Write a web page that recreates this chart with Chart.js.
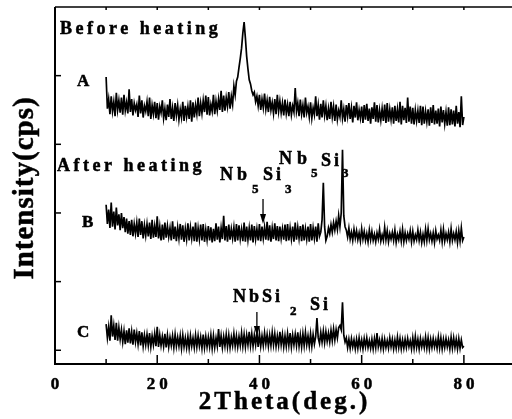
<!DOCTYPE html>
<html><head><meta charset="utf-8">
<script src="https://cdn.jsdelivr.net/npm/chart.js@4"></script>
<style>
html,body{margin:0;padding:0;background:#fff;overflow:hidden;}
#wrap{width:512px;height:419px;overflow:hidden;position:relative;background:#fff;}
canvas{position:absolute;left:0;top:0;}
</style></head><body>
<div id="wrap"><canvas id="c" width="520" height="419"></canvas></div>
<script>
// 2θ sampling grid
const twoThetaStart = 10, twoThetaStep = 0.25;

// A: before heating (offset intensity, arbitrary cps units)
const traceA = [
398,352,366,344, 370,348,362,341, 375,350,364,346, 368,343,372,349, 361,345,380,347,
366,342,360,350, 358,340,371,345, 364,339,356,348, 362,341,368,337, 357,344,362,338,
360,336,355,346, 364,338,352,335, 358,340,366,337, 353,334,360,342, 357,336,351,339,
362,334,356,340, 355,337,364,333, 361,339,357,344, 368,341,360,345, 364,347,371,343,
369,342,358,348, 372,344,363,349, 366,350,378,347, 371,349,368,355, 376,352,370,358,
385,372,392,398, 412,425,440,462, 478,455,428,410, 394,388,378,372, 376,362,370,356,
372,350,366,353, 374,351,364,347, 369,350,361,345, 366,344,372,348, 363,346,360,342,
365,345,358,341, 362,343,356,347, 382,348,360,341, 365,344,357,339, 368,346,355,340,
361,338,353,343, 370,341,357,336, 359,339,364,342, 356,335,352,337, 362,340,355,334,
358,336,349,340, 364,338,351,333, 357,341,360,337, 353,332,356,339, 361,335,350,338,
355,331,357,336, 359,334,352,330, 354,337,361,333, 357,332,350,335, 352,334,358,331,
360,333,351,336, 354,330,356,334, 351,332,362,329, 356,335,353,331, 368,333,355,330,
353,329,350,334, 349,331,356,328, 355,330,348,333, 351,327,354,331, 357,329,349,330,
352,326,355,332, 350,330,347,327, 354,328,351,329, 349,326,356,330, 347,325,370,328,
340];

// B: after heating
const traceB = [
212,184,205,178, 215,180,202,176, 208,182,198,175, 200,178,194,172, 192,170,188,168,
190,166,184,170, 186,165,192,168, 188,163,182,167, 184,166,186,162, 190,164,181,165,
195,163,180,160, 183,161,186,164, 181,165,178,160, 188,162,180,159, 179,163,184,161,
182,158,177,162, 185,160,179,163, 180,159,186,158, 178,162,183,160, 184,158,176,161,
181,160,179,157, 177,159,185,161, 180,157,178,162, 196,160,181,158, 183,161,177,163,
179,158,184,160, 182,162,176,159, 186,158,180,161, 178,160,183,157, 181,162,177,160,
184,159,180,163, 179,161,187,160, 182,158,178,162, 185,160,181,159, 180,163,177,161,
183,159,184,160, 178,162,180,158, 186,161,179,163, 181,159,183,160, 177,162,180,158,
184,160,178,163, 180,158,185,166, 172,190,244,180, 160,166,178,170, 183,172,186,175,
188,176,196,180, 200,292,196,180, 175,165,178,162, 172,160,176,163, 174,161,171,159,
177,162,173,160, 170,158,175,161, 173,160,169,158, 171,162,176,159, 168,160,179,161,
174,158,170,162, 172,160,175,157, 169,161,173,159, 176,158,171,160, 170,162,174,158,
173,159,168,161, 175,160,172,157, 169,158,176,160, 177,161,170,159, 171,157,174,162,
168,160,175,158, 176,159,170,161, 172,158,177,160, 170,161,173,157, 174,159,178,160,
165];

// C: after heating
const traceC = [
38,18,34,14, 51,20,36,15, 40,14,33,16, 30,12,28,9, 29,11,32,10,
27,8,30,12, 25,9,28,7, 26,6,22,8, 23,7,25,5, 21,8,24,6,
34,5,22,7, 20,6,24,4, 22,5,19,7, 21,4,23,6, 19,6,21,3,
22,5,18,4, 20,3,21,6, 18,4,22,5, 21,6,19,3, 23,4,20,5,
19,5,22,3, 21,4,18,6, 31,5,21,4, 20,6,23,5, 22,4,19,7,
24,6,21,5, 20,7,25,6, 23,5,22,8, 27,7,24,6, 22,8,26,5,
24,6,21,7, 25,9,23,6, 22,7,26,8, 24,6,21,7, 27,8,23,5,
21,6,24,7, 25,5,22,8, 23,7,26,6, 22,5,24,7, 26,8,21,6,
24,6,23,9, 20,47,18,10, 26,12,28,11, 27,13,25,12, 29,14,31,15,
30,18,33,36, 30,70,22,12, 18,4,16,3, 17,5,15,2, 16,3,18,4,
15,2,17,5, 18,4,14,3, 16,2,17,4, 25,5,15,3, 17,2,16,4,
14,3,18,5, 16,2,15,3, 19,4,17,2, 15,3,16,4, 17,5,14,2,
18,3,20,4, 16,2,17,5, 15,4,19,3, 18,2,16,4, 17,5,15,3,
19,3,18,2, 16,4,17,5, 15,2,19,3, 18,4,16,2, 17,3,15,4,
6];

const xMajorTicks = [0, 20, 40, 60, 80];
const xTickLabels = ['0', '20', '40', '60', '80'];
const xMinorTicks = [10, 30, 50, 70];
const xTopTicks = [0, 10, 20, 30, 40, 50, 60, 70, 80];
const yTicks = [0, 100, 200, 300, 400];
const xTitle = '2Theta(deg.)';
const yTitle = 'Intensity(cps)';

const serif = '"Liberation Serif", "Times New Roman", "DejaVu Serif", serif';
function toXY(arr) { return arr.map((v, i) => ({ x: twoThetaStart + i * twoThetaStep, y: v })); }

function txt(ctx, s, x, y, size, ls, align) {
  ctx.save();
  ctx.font = 'bold ' + size + 'px ' + serif;
  ctx.letterSpacing = ls + 'px';
  ctx.fillStyle = '#000';
  ctx.strokeStyle = '#000';
  ctx.lineWidth = 0.5;
  ctx.textBaseline = 'alphabetic';
  ctx.textAlign = align || 'left';
  const px = x + (align === 'center' ? ls / 2 : 0);
  ctx.fillText(s, px, y);
  ctx.strokeText(s, px, y);
  ctx.restore();
}
function seg(ctx, x1, y1, x2, y2) { ctx.beginPath(); ctx.moveTo(x1, y1); ctx.lineTo(x2, y2); ctx.stroke(); }
function arrow(ctx, x, yTop, yTip) {
  ctx.save();
  ctx.strokeStyle = '#000'; ctx.fillStyle = '#000'; ctx.lineWidth = 1.3;
  seg(ctx, x, yTop, x, yTip - 6);
  ctx.beginPath(); ctx.moveTo(x - 3, yTip - 10); ctx.lineTo(x + 3, yTip - 10); ctx.lineTo(x, yTip); ctx.closePath(); ctx.fill();
  ctx.restore();
}

const decor = {
  id: 'decor',
  afterDatasetsDraw(chart) {
    const { ctx, chartArea: a, scales: { x, y } } = chart;
    ctx.save();
    ctx.strokeStyle = '#000';
    ctx.lineWidth = 1.5;
    seg(ctx, a.left, a.top, a.right, a.top);
    ctx.lineWidth = 2;
    ctx.beginPath();
    ctx.moveTo(a.left, a.top); ctx.lineTo(a.left, a.bottom); ctx.lineTo(a.right, a.bottom);
    ctx.stroke();
    ctx.lineWidth = 1.5;
    for (const v of xMajorTicks) { const p = x.getPixelForValue(v); seg(ctx, p, a.bottom, p, a.bottom - 9); }
    for (const v of xMinorTicks) { const p = x.getPixelForValue(v); seg(ctx, p, a.bottom, p, a.bottom - 5); }
    for (const v of xTopTicks) { const p = x.getPixelForValue(v); seg(ctx, p, a.top, p, a.top + 3); }
    for (const v of yTicks) { const p = y.getPixelForValue(v); seg(ctx, a.left, p, a.left + 6, p); }
    ctx.restore();

    xMajorTicks.forEach((v, i) => txt(ctx, xTickLabels[i], x.getPixelForValue(v), 389, 17, 4, 'center'));
    txt(ctx, xTitle, 283, 409, 25, 3, 'center');
    ctx.save();
    ctx.translate(33, 188.5);
    ctx.rotate(-Math.PI / 2);
    txt(ctx, yTitle, 0, 0, 29, 1, 'center');
    ctx.restore();

    txt(ctx, 'Before heating', 60, 34, 18, 3.5);
    txt(ctx, 'A', 77, 86, 17, 0);
    txt(ctx, 'After heating', 57, 171, 18, 3.5);
    txt(ctx, 'B', 82, 227, 17, 0);
    txt(ctx, 'C', 77, 337, 17, 0);

    // Nb5Si3 (first)
    txt(ctx, 'Nb', 220, 180, 18, 4);
    txt(ctx, '5', 252, 193, 13, 0);
    txt(ctx, 'Si', 263, 180, 18, 3);
    txt(ctx, '3', 285, 193, 13, 0);
    // Nb5Si3 (second)
    txt(ctx, 'N', 279, 164, 18, 0);
    txt(ctx, 'b', 297, 164, 18, 0);
    txt(ctx, '5', 311, 177, 13, 0);
    txt(ctx, 'Si', 321, 166, 18, 3);
    txt(ctx, '3', 342, 177, 13, 0);
    // NbSi2, Si
    txt(ctx, 'NbSi', 233, 302, 18, 3);
    txt(ctx, '2', 290, 315, 13, 0);
    txt(ctx, 'Si', 310, 310, 18, 3);

    arrow(ctx, x.getPixelForValue(40.7), 199, 224);
    arrow(ctx, x.getPixelForValue(39.5), 312, 336);
  }
};

const ds = (arr) => ({ data: toXY(arr), borderColor: '#000', borderWidth: 1.7, pointRadius: 0, tension: 0, fill: false, borderJoinStyle: 'miter' });

new Chart(document.getElementById('c'), {
  type: 'line',
  data: { datasets: [ds(traceA), ds(traceB), ds(traceC)] },
  options: {
    responsive: false,
    animation: false,
    events: [],
    layout: { padding: { left: 55, top: 7, right: 5, bottom: 55 } },
    plugins: { legend: { display: false }, tooltip: { enabled: false } },
    scales: {
      x: { type: 'linear', min: 0, max: 90, display: false },
      y: { type: 'linear', min: -20, max: 500, display: false }
    }
  },
  plugins: [decor]
});
</script>
</body></html>
